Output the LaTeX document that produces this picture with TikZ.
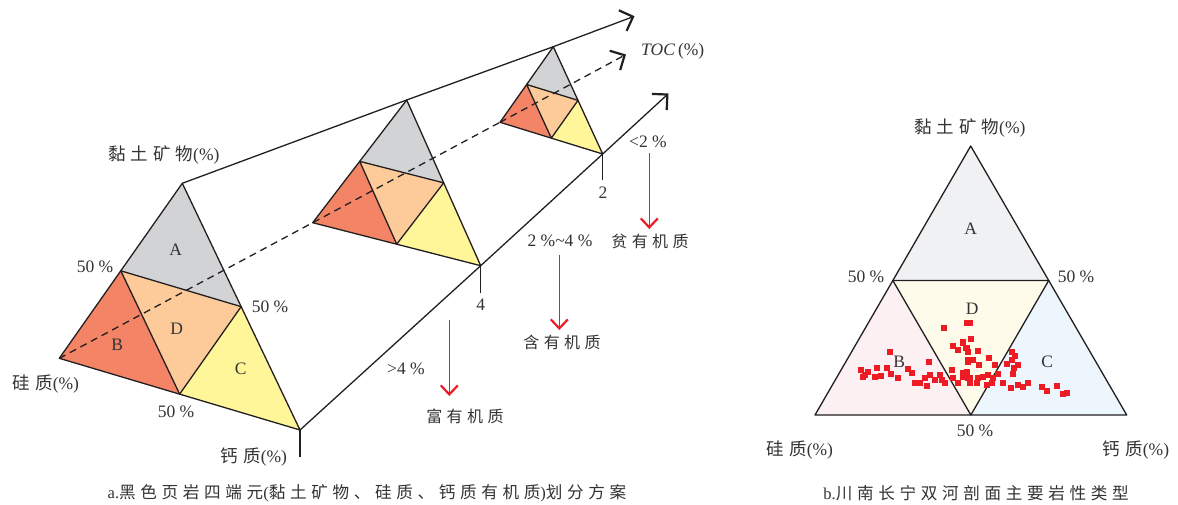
\documentclass[tikz,border=0pt]{standalone}
\usepackage{fontspec}
\setmainfont{Liberation Serif}
\newfontfamily\cjk[LetterSpace=28]{Noto Sans CJK SC}
\usetikzlibrary{arrows.meta,calc}
\definecolor{ink}{HTML}{231F20}
\definecolor{txt}{HTML}{333333}
\definecolor{cA}{HTML}{D1D3D4}
\definecolor{cB}{HTML}{F48466}
\definecolor{cD}{HTML}{FDCB9A}
\definecolor{cC}{HTML}{FFF69A}
\definecolor{pA}{HTML}{F0F1F3}
\definecolor{pB}{HTML}{FCF0F2}
\definecolor{pD}{HTML}{FFFBEA}
\definecolor{pC}{HTML}{EEF6FD}
\definecolor{redm}{HTML}{ED1C24}
\newcommand\terntri[5]{%
  \coordinate (#1L) at #2; \coordinate (#1R) at #3; \coordinate (#1T) at #4;
  \coordinate (#1l) at ($(#1L)!0.5!(#1T)$);
  \coordinate (#1r) at ($(#1R)!0.5!(#1T)$);
  \coordinate (#1b) at ($(#1L)!0.5!(#1R)$);
  \fill[#5A] (#1T) -- (#1l) -- (#1r) -- cycle;
  \fill[#5B] (#1L) -- (#1l) -- (#1b) -- cycle;
  \fill[#5C] (#1R) -- (#1r) -- (#1b) -- cycle;
  \fill[#5D] (#1l) -- (#1r) -- (#1b) -- cycle;
  \draw[edge] (#1L) -- (#1R) -- (#1T) -- cycle;
  \draw[edge] (#1l) -- (#1r) -- (#1b) -- cycle;
}
\tikzset{
  edge/.style={draw=ink, line width=1.3pt, line join=round},
  lab/.style={text=txt, font=\fontsize{17.5}{20}\selectfont, inner sep=0pt},
  captxt/.style={text=txt, font=\fontsize{16.6}{20}\selectfont, inner sep=0pt},
  cn/.style={text=txt, font=\fontsize{16}{20}\selectfont\cjk, inner sep=0pt},
  axis/.style={draw=ink, line width=1.3pt, -{Straight Barb[length=11pt,width=22pt,line width=2.2pt]}},
  redarrow/.style={draw=redm, line width=1.4pt, -{Straight Barb[length=9pt,width=17pt,line width=2.2pt]}},
}
\begin{document}
\begin{tikzpicture}[x=1pt,y=-1pt]
\useasboundingbox (0,0) rectangle (1178,505);
% left diagram: triangles
\terntri{g}{(59.3,358.3)}{(300,430)}{(182.3,183.3)}{c}
\terntri{m}{(312.7,222.7)}{(480.7,265.7)}{(406.7,100)}{c}
\terntri{s}{(500,122.3)}{(602.7,154)}{(553.3,46.7)}{c}
% axis ends
\coordinate (topEnd) at (634.5,16.2);
\coordinate (midEnd) at (626,54.5);
\coordinate (botEnd) at (668.5,93.5);
\draw[edge] (gT) -- (mT) -- (sT);
\draw[axis] (sT) -- (topEnd);
\draw[edge, dash pattern=on 7pt off 5pt] (gL) -- (mL) -- (sL);
\draw[axis, dash pattern=on 7pt off 5pt] (sL) -- (midEnd);
\draw[edge] (gR) -- (mR) -- (sR);
\draw[axis] (sR) -- (botEnd);
% ticks
\coordinate (gTick) at (300,457);
\coordinate (mTick) at (480.7,293);
\coordinate (sTick) at (602.7,180);
\draw[edge] (gR) -- (gTick);
\draw[edge] (mR) -- (mTick);
\draw[edge] (sR) -- (sTick);
% labels left
\node[lab] (gAl) at (175.7,250) {A};
\node[lab] (gBl) at (117.3,345) {B};
\node[lab] (gDl) at (176.7,328.3) {D};
\node[lab] (gCl) at (240.7,368.3) {C};
\node[lab] (gclay) at (164,155) {{\cjk 黏土矿物}(\%)};
\node[lab] (g50l) at (95,267) {50 \%};
\node[lab] (g50r) at (270,307) {50 \%};
\node[lab] (g50b) at (176,412) {50 \%};
\node[lab] (gsil) at (46,384) {{\cjk 硅质}(\%)};
\node[lab] (gcal) at (254,457) {{\cjk 钙质}(\%)};
\node[lab, anchor=west] (toc) at (641,51) {\textit{TOC}\,(\%)};
\node[lab] (n2) at (603,193) {2};
\node[lab] (n4) at (480.7,305) {4};
\node[lab] (lt2) at (648,142) {<2 \%};
\node[lab] (r24) at (560,241) {2 \%\textasciitilde 4 \%};
\node[lab] (gt4) at (406,369) {>4 \%};
\node[cn] (poor) at (650,241) {贫有机质};
\node[cn] (cont) at (562,342) {含有机质};
\node[cn] (rich) at (465,416) {富有机质};
% red arrows
\coordinate (ra1s) at (649.3,153); \coordinate (ra1e) at (649.3,229);
\coordinate (ra2s) at (559.3,255); \coordinate (ra2e) at (559.3,330);
\coordinate (ra3s) at (449.3,320); \coordinate (ra3e) at (449.3,396);
\draw[redarrow] (ra1s) -- (ra1e);
\draw[redarrow] (ra2s) -- (ra2e);
\draw[redarrow] (ra3s) -- (ra3e);
% right diagram
\terntri{q}{(815,415)}{(1126.7,415)}{(970.7,146)}{p}
\node[lab] (qAl) at (970.7,228.3) {A};
\node[lab] (qDl) at (972.3,308.3) {D};
\node[lab] (qBl) at (899.3,361.7) {B};
\node[lab] (qCl) at (1047.3,361.7) {C};
\foreach \x/\y in {944/327.7, 890/351.7, 929/361.7, 860.7/370, 865/375, 868.3/371.7, 877.3/367.7, 886.7/367.7, 863.3/376.7, 875/376.7, 880.7/375.7, 890.7/373.7, 898.3/377.7, 908.3/369, 911.7/373.3, 915/383.3, 920/383.3, 925/378.3, 926.7/385.7, 930/375, 935/380, 940/375, 941.7/380, 945/383.3, 951.7/370, 953.3/378.3, 958.3/383.3, 963.3/373.3, 963.3/343.3, 953.3/345.7, 958.3/350, 966.7/348.3, 968.3/361.7, 968.3/378.3, 966.7/323.3, 970/323.3, 970.7/339, 962.7/342.3, 977.7/350.7, 968.3/360, 973.3/360, 979/365, 989/358.3, 994.7/365, 1006.7/364, 1011.7/351.7, 1015/355.7, 1011.7/360, 1018.3/365, 1014.3/368.3, 1013.3/374.3, 966.7/371.7, 963.3/376.7, 970/378.3, 978.3/378.3, 983.3/376.7, 988.3/375, 993.3/378.3, 998.3/374.3, 986.7/385, 991.7/383.3, 976.7/383.3, 970/383.3, 1002.7/382.7, 1010.7/387.7, 1018.3/385, 1023.3/386.7, 1028.3/383.3, 1041.7/386.7, 1046.7/391, 1056.7/385.7, 1066.7/393.3, 1063.3/394.3, 953/346, 965.7/348, 967.7/352}
  \fill[redm] ({\x-3},{\y-3}) rectangle ({\x+3},{\y+3});
\node[lab] (qclay) at (970,128) {{\cjk 黏土矿物}(\%)};
\node[lab] (q50l) at (866,277) {50 \%};
\node[lab] (q50r) at (1076,277) {50 \%};
\node[lab] (q50b) at (975,431) {50 \%};
\node[lab] (qsil) at (800,450) {{\cjk 硅质}(\%)};
\node[lab] (qcal) at (1136,450) {{\cjk 钙质}(\%)};
% captions
\node[captxt] (capa) at (367,493) {a.{\cjk 黑色页岩四端元}({\cjk 黏土矿物、硅质、钙质有机质}){\cjk 划分方案}};
\node[captxt] (capb) at (976,493) {b.{\cjk 川南长宁双河剖面主要岩性类型}};
\end{tikzpicture}
\end{document}
